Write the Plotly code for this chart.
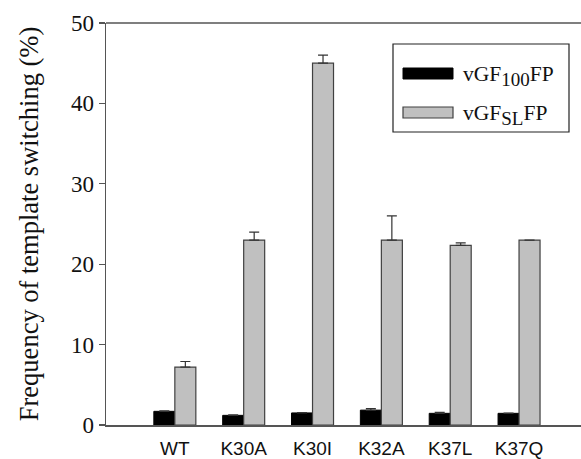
import plotly.graph_objects as go

categories = ["WT", "K30A", "K30I", "K32A", "K37L", "K37Q"]
vgf100 = [1.7, 1.2, 1.5, 1.85, 1.45, 1.45]
vgf100_err = [0.05, 0.05, 0.05, 0.2, 0.12, 0.02]
vgfsl = [7.2, 23.0, 45.0, 23.0, 22.35, 23.0]
vgfsl_err = [0.7, 1.0, 1.0, 3.0, 0.3, 0.0]
y_ticks = [0, 10, 20, 30, 40, 50]

W, H = 581, 459
L, T, B, R = 106, 23, 34, 0
pw, ph = W - L - R, H - T - B

def px(x):
    return (x - L) / pw

def py(y):
    return (H - B - y) / ph

fig = go.Figure()
fig.add_bar(x=categories, y=vgf100, name="vGF100FP",
            marker=dict(color="#000000", line=dict(color="#000000", width=1)),
            error_y=dict(type="data", array=vgf100_err, arrayminus=[0]*6, symmetric=False,
                         color="#333333", thickness=1.2, width=5),
            showlegend=False)
fig.add_bar(x=categories, y=vgfsl, name="vGFSLFP",
            marker=dict(color="#c0c0c0", line=dict(color="#404040", width=1.2)),
            error_y=dict(type="data", array=vgfsl_err, arrayminus=[0]*6, symmetric=False,
                         color="#333333", thickness=1.2, width=5),
            showlegend=False)

shapes = [
    dict(type="line", xref="paper", yref="paper", x0=0, x1=1, y0=1, y1=1,
         line=dict(color="#555555", width=1.5)),
    dict(type="rect", xref="paper", yref="paper", x0=px(393), x1=px(569), y0=py(132), y1=py(44),
         line=dict(color="#222222", width=1.2), fillcolor="white", layer="above"),
    dict(type="rect", xref="paper", yref="paper", x0=px(403), x1=px(453), y0=py(79), y1=py(68),
         line=dict(color="#000000", width=1), fillcolor="#000000", layer="above"),
    dict(type="rect", xref="paper", yref="paper", x0=px(403), x1=px(453), y0=py(118), y1=py(107),
         line=dict(color="#404040", width=1.2), fillcolor="#c0c0c0", layer="above"),
]
sub_style = "font-size:19px"
annotations = [
    dict(text=f"vGF<sub><span style='{sub_style}'>100</span></sub>FP", xref="paper", yref="paper",
         x=px(461), y=py(76), xanchor="left", yanchor="middle", showarrow=False,
         font=dict(family="Liberation Serif", size=21.5, color="#111111")),
    dict(text=f"vGF<sub><span style='{sub_style}'>SL</span></sub>FP", xref="paper", yref="paper",
         x=px(461), y=py(115), xanchor="left", yanchor="middle", showarrow=False,
         font=dict(family="Liberation Serif", size=21.5, color="#111111")),
]

fig.update_layout(
    width=W, height=H,
    margin=dict(l=L, r=R, t=T, b=B, pad=0, autoexpand=False),
    paper_bgcolor="white", plot_bgcolor="white",
    barmode="group", bargap=0.39, bargroupgap=0,
    shapes=shapes, annotations=annotations,
    showlegend=False, dragmode=False,
    xaxis=dict(type="category", range=[-1, 5.9], showline=True, mirror=False, automargin=False,
               fixedrange=True,
               linecolor="#555555", linewidth=1.5, ticks="", showgrid=False, zeroline=False,
               tickfont=dict(family="Liberation Sans", size=19, color="#111111"),
               ticklabelstandoff=6),
    yaxis=dict(range=[0, 50], tickvals=y_ticks, showline=True, mirror=False, fixedrange=True,
               linecolor="#555555", linewidth=1.5,
               automargin=False,
               ticks="outside", ticklen=6, tickcolor="#555555", tickwidth=1.2,
               showgrid=False, zeroline=False,
               tickfont=dict(family="Liberation Serif", size=23, color="#111111"),
               title=dict(text="Frequency of template switching (%)",
                          font=dict(family="Liberation Serif", size=26.5, color="#111111"),
                          standoff=24)),
)

fig.write_html("out.html", config={"displayModeBar": False, "staticPlot": True},
               post_script="document.body.style.margin='0px';document.body.style.overflow='hidden';")
